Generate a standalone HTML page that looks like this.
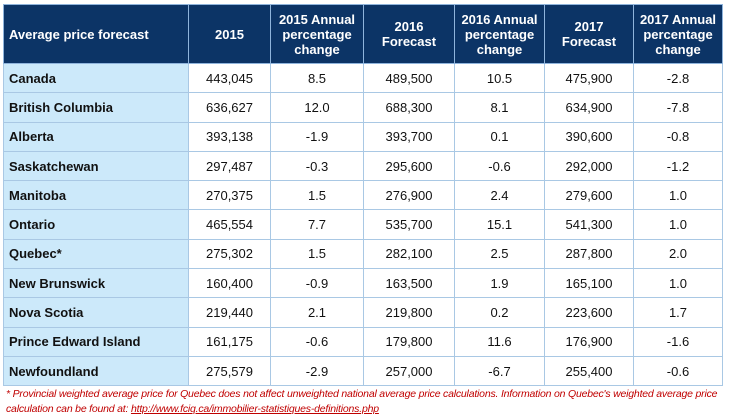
<!DOCTYPE html><html><head><style>
body{margin:0;width:729px;height:419px;background:#fff;position:relative;overflow:hidden;font-family:"Liberation Sans",sans-serif;}
table{position:absolute;left:3px;top:4px;border-collapse:collapse;table-layout:fixed;}
td,th{border:1px solid #a9c8e4;padding:0;font-size:13px;text-align:center;color:#111;}
th{background:#0c3466;color:#fff;font-weight:bold;height:58px;line-height:15px;border-color:#8fb4dc;}
th.l{text-align:left;padding-left:5px;}
td{height:28.3px;}
td.l{background:#cce9fa;text-align:left;padding-left:5px;font-weight:bold;}
.f{position:absolute;left:6px;top:387px;font-size:10.5px;font-style:italic;color:#c00000;line-height:15px;letter-spacing:-0.2px;}
.f u{color:#c00000;}
</style></head><body>
<table>
<colgroup><col style="width:185px"><col style="width:82px"><col style="width:93px"><col style="width:91px"><col style="width:90px"><col style="width:89px"><col style="width:89px"></colgroup>
<tr><th class="l">Average price forecast</th><th>2015</th><th>2015 Annual percentage change</th><th>2016<br>Forecast</th><th>2016 Annual percentage change</th><th>2017<br>Forecast</th><th>2017 Annual percentage change</th></tr>
<tr><td class="l">Canada</td><td>443,045</td><td>8.5</td><td>489,500</td><td>10.5</td><td>475,900</td><td>-2.8</td></tr>
<tr><td class="l">British Columbia</td><td>636,627</td><td>12.0</td><td>688,300</td><td>8.1</td><td>634,900</td><td>-7.8</td></tr>
<tr><td class="l">Alberta</td><td>393,138</td><td>-1.9</td><td>393,700</td><td>0.1</td><td>390,600</td><td>-0.8</td></tr>
<tr><td class="l">Saskatchewan</td><td>297,487</td><td>-0.3</td><td>295,600</td><td>-0.6</td><td>292,000</td><td>-1.2</td></tr>
<tr><td class="l">Manitoba</td><td>270,375</td><td>1.5</td><td>276,900</td><td>2.4</td><td>279,600</td><td>1.0</td></tr>
<tr><td class="l">Ontario</td><td>465,554</td><td>7.7</td><td>535,700</td><td>15.1</td><td>541,300</td><td>1.0</td></tr>
<tr><td class="l">Quebec*</td><td>275,302</td><td>1.5</td><td>282,100</td><td>2.5</td><td>287,800</td><td>2.0</td></tr>
<tr><td class="l">New Brunswick</td><td>160,400</td><td>-0.9</td><td>163,500</td><td>1.9</td><td>165,100</td><td>1.0</td></tr>
<tr><td class="l">Nova Scotia</td><td>219,440</td><td>2.1</td><td>219,800</td><td>0.2</td><td>223,600</td><td>1.7</td></tr>
<tr><td class="l">Prince Edward Island</td><td>161,175</td><td>-0.6</td><td>179,800</td><td>11.6</td><td>176,900</td><td>-1.6</td></tr>
<tr><td class="l">Newfoundland</td><td>275,579</td><td>-2.9</td><td>257,000</td><td>-6.7</td><td>255,400</td><td>-0.6</td></tr>
</table>
<div class="f">* Provincial weighted average price for Quebec does not affect unweighted national average price calculations. Information on Quebec's weighted average price<br>calculation can be found at: <u>http://www.fciq.ca/immobilier-statistiques-definitions.php</u></div>
</body></html>
